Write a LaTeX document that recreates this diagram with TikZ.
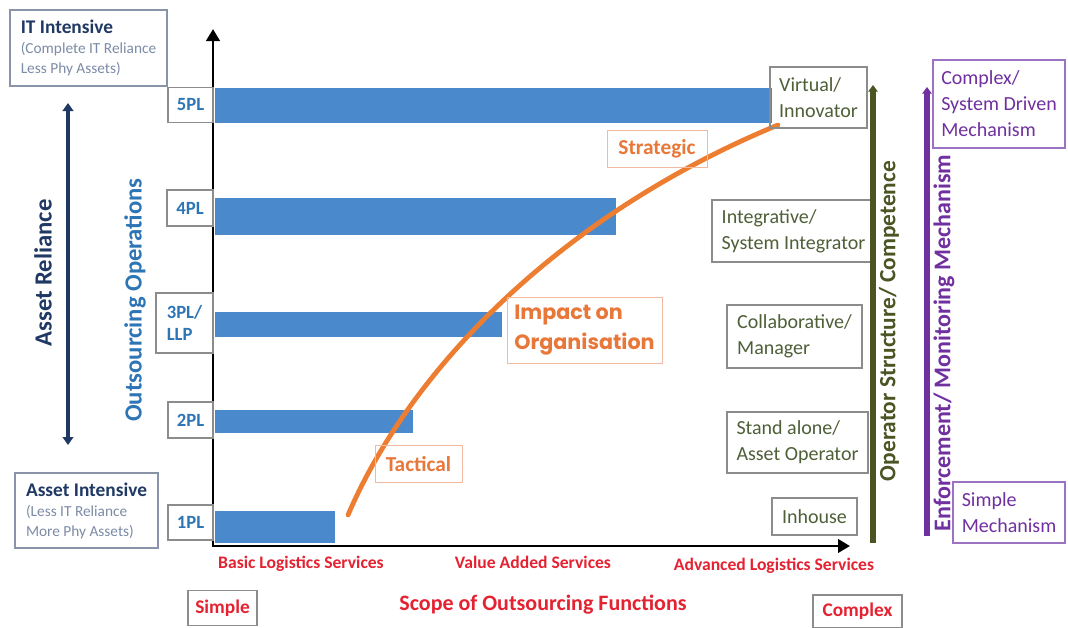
\documentclass[tikz,border=0pt]{standalone}
\usepackage{fontspec}
\setmainfont{Carlito}
\newfontfamily\geofont{Poppins}
\usetikzlibrary{arrows.meta}

\definecolor{navyhead}{HTML}{1F3864}
\definecolor{subgrey}{HTML}{7C8BA6}
\definecolor{plblue}{HTML}{2E75B6}
\definecolor{barblue}{HTML}{4A89CB}
\definecolor{opgreen}{HTML}{4F5F38}
\definecolor{olivebar}{HTML}{4B5523}
\definecolor{mechpurple}{HTML}{7030A0}
\definecolor{purpleedge}{HTML}{9C72C2}
\definecolor{scopered}{HTML}{E42231}
\definecolor{curveorange}{HTML}{ED7D31}
\definecolor{orangetext}{HTML}{E8773A}
\definecolor{orangeedge}{HTML}{F4B9A2}
\definecolor{boxedge}{HTML}{8C8C8C}
\definecolor{leftedge}{HTML}{8A94A8}

\newcommand\fs[2]{\fontsize{#1}{#2}\selectfont}

\begin{document}
\begin{tikzpicture}[x=0.75pt,y=-0.75pt,
  wh/.style 2 args={minimum width=#1*0.75pt, minimum height=#2*0.75pt},
  frame/.style={draw=boxedge, line width=0.8pt, inner sep=0pt, align=left},
  leftbox/.style={frame, draw=leftedge, font=\fs{11.5}{15}, text=subgrey},
  plbox/.style={frame, font=\fs{14}{17}\bfseries, text=plblue},
  opbox/.style={frame, font=\fs{15}{19.5}, text=opgreen},
  mechbox/.style={frame, draw=purpleedge, font=\fs{15}{19.5}, text=mechpurple},
  redbox/.style={frame, font=\fs{14.5}{17}\bfseries, text=scopered},
  redlabel/.style={font=\fs{13.2}{15}\bfseries, text=scopered, inner sep=0pt},
  orangebox/.style={frame, draw=orangeedge, line width=0.6pt, text=orangetext},
  vlabel/.style={rotate=90, inner sep=0pt},
  axis/.style={line width=2.2pt, line join=miter, {Triangle[length=9pt,width=10pt]}-{Triangle[length=9pt,width=10pt]}},
  bar/.style={fill=barblue}
]
\useasboundingbox[fill=white] (0,0) rectangle (1068,628);

% service-level bars
\fill[bar] (215,88) rectangle (772,123);
\fill[bar] (215,198) rectangle (616,235);
\fill[bar] (215,312) rectangle (502,337);
\fill[bar] (215,410) rectangle (413,433);
\fill[bar] (215,511) rectangle (335,543);

% axes
\coordinate (ytop) at (213,29);
\coordinate (origin) at (213,546);
\coordinate (xend) at (850,546);
\draw[axis] (ytop) -- (origin) -- (xend);

% levels on the vertical axis
\node[plbox, wh={45}{35}] (pl5) at (190.5,105) {5PL};
\node[plbox, wh={46}{36}] (pl4) at (190,208) {4PL};
\node[plbox, wh={57}{60}] (pl3) at (184.5,323) {3PL/\\LLP};
\node[plbox, wh={45}{36}] (pl2) at (190.5,420) {2PL};
\node[plbox, wh={45}{35}] (pl1) at (190.5,522.5) {1PL};

% asset reliance scale
\node[leftbox, wh={157}{76}] (itint) at (88.5,48)
  {{\fs{14.5}{17}\bfseries\color{navyhead}IT Intensive}\\
   (Complete IT Reliance\\
   Less Phy Assets)};
\node[leftbox, wh={143}{75}] (assetint) at (86.5,510.5)
  {{\fs{14.5}{17}\bfseries\color{navyhead}Asset Intensive}\\
   (Less IT Reliance\\
   More Phy Assets)};
\coordinate (relTop) at (68,103);
\coordinate (relBot) at (68,445);
\draw[navyhead, line width=3pt, {Triangle[length=6pt,width=8pt]}-{Triangle[length=6pt,width=8pt]}] (relTop) -- (relBot);
\node[vlabel, font=\fs{18.5}{20}\bfseries, text=navyhead] (relLabel) at (43,273) {Asset Reliance};
\node[vlabel, font=\fs{18.5}{20}\bfseries, text=plblue] (opsLabel) at (135,300) {Outsourcing Operations};

% impact curve
\coordinate (curveStart) at (348,515);
\coordinate (curveEnd) at (778,125);
\draw[curveorange, line width=3.6pt, line cap=round]
  (curveStart) .. controls (410,370) and (560,215) .. (curveEnd);
\node[orangebox, wh={100}{37}, font=\fs{16}{18}\bfseries] (strategic) at (657,149) {Strategic};
\node[orangebox, wh={155}{66}, font=\geofont\fs{15.5}{22}\bfseries] (impact) at (584.5,330) {Impact on\\Organisation};
\node[orangebox, wh={87}{37}, font=\fs{16}{18}\bfseries] (tactical) at (418.5,464) {Tactical};

% operator structure
\node[opbox, wh={97}{61}] (virtual) at (818.5,97.5) {Virtual/\\Innovator};
\node[opbox, wh={163}{62}] (integr) at (793.5,231) {Integrative/\\System Integrator};
\node[opbox, wh={135}{63}] (collab) at (794.5,336.5) {Collaborative/\\Manager};
\node[opbox, wh={141}{61}] (standalone) at (797.5,442.5) {Stand alone/\\Asset Operator};
\node[opbox, wh={85}{37}] (inhouse) at (814.5,516.5) {Inhouse};
\coordinate (opBot) at (873,543);
\coordinate (opTop) at (873,85);
\draw[olivebar, line width=4pt, -{Triangle[length=5pt,width=7pt]}] (opBot) -- (opTop);
\node[vlabel, font=\fs{17.5}{20}\bfseries, text=olivebar] (opLabel) at (889,321) {Operator Structure/ Competence};

% enforcement mechanism
\node[mechbox, wh={132}{88}] (complexmech) at (999,104) {Complex/\\System Driven\\Mechanism};
\node[mechbox, wh={112}{61}] (simplemech) at (1009,512.5) {Simple\\Mechanism};
\coordinate (mechBot) at (927,536);
\coordinate (mechTop) at (927,87);
\draw[mechpurple, line width=4pt, -{Triangle[length=5pt,width=7pt]}] (mechBot) -- (mechTop);
\node[vlabel, font=\fs{18}{20}\bfseries, text=mechpurple] (mechLabel) at (944,343) {Enforcement/ Monitoring Mechanism};

% scope of outsourcing functions
\node[redlabel] (basic) at (301,564) {Basic Logistics Services};
\node[redlabel] (valueadd) at (533,562) {Value Added Services};
\node[redlabel] (advanced) at (774,566) {Advanced Logistics Services};
\node[font=\fs{16.5}{18}\bfseries, text=scopered, inner sep=0pt] (scope) at (543,605) {Scope of Outsourcing Functions};
\node[redbox, wh={69}{35}] (simple) at (222.5,608) {Simple};
\node[redbox, wh={89}{33}] (complex) at (857.5,611.5) {Complex};
\end{tikzpicture}
\end{document}
